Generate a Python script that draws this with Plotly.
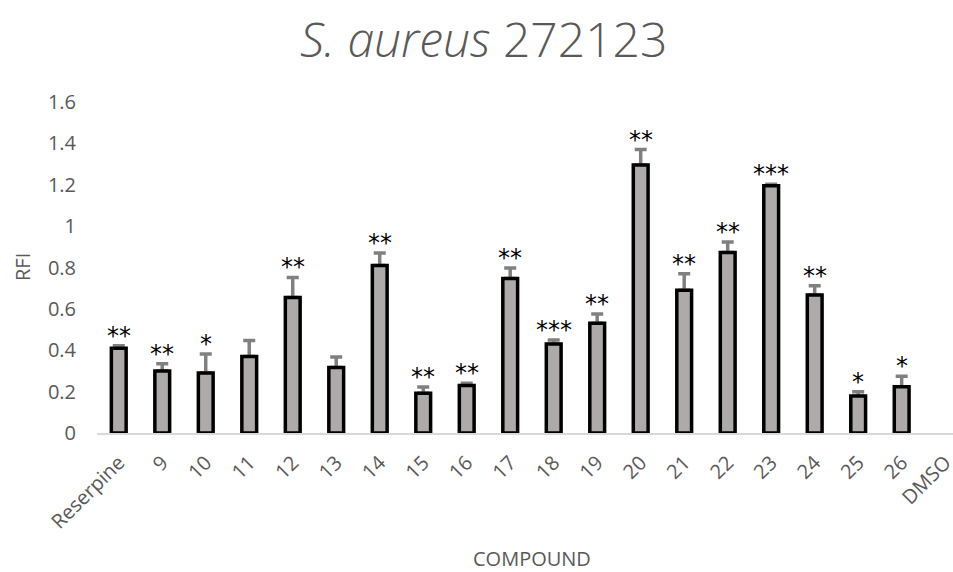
import plotly.graph_objects as go

categories = ["Reserpine", "9", "10", "11", "12", "13", "14", "15", "16", "17",
              "18", "19", "20", "21", "22", "23", "24", "25", "26", "DMSO"]
rfi = [0.41, 0.30, 0.29, 0.37, 0.655, 0.317, 0.81, 0.192, 0.23, 0.747,
       0.43, 0.53, 1.295, 0.69, 0.873, 1.195, 0.667, 0.179, 0.224, None]
err = [0.012, 0.035, 0.092, 0.077, 0.097, 0.05, 0.06, 0.03, 0.01, 0.05,
       0.02, 0.045, 0.075, 0.08, 0.05, 0.008, 0.045, 0.02, 0.05, None]
stars = ["**", "**", "*", "", "**", "", "**", "**", "**", "**",
         "***", "**", "**", "**", "**", "***", "**", "*", "*", ""]

grey_text = "#595959"
font_family = "Open Sans"

fig = go.Figure()

# error bars (upper only) drawn first, bars drawn over them
fig.add_trace(go.Bar(
    x=categories, y=rfi, width=0.34,
    marker=dict(color="rgba(0,0,0,0)", line=dict(width=0)),
    error_y=dict(type="data", array=err, arrayminus=[0] * len(err),
                 color="#808080", thickness=3.5, width=6),
    hoverinfo="skip", showlegend=False,
))
fig.add_trace(go.Bar(
    x=categories, y=rfi, width=0.34,
    marker=dict(color="#AEAAAA", line=dict(color="#000000", width=3.5)),
    showlegend=False,
))

annotations = [
    dict(text="<i>S. aureus</i> 272123", xref="paper", yref="paper",
         x=(483 - 97) / 856, y=(433 - 38) / 331, xanchor="center", yanchor="middle",
         showarrow=False, font=dict(size=48, color=grey_text, family=font_family, weight=300)),
    dict(text="RFI", xref="paper", yref="paper", x=(22 - 97) / 856, y=(433 - 267) / 331,
         xanchor="center", yanchor="middle", textangle=-90, showarrow=False,
         font=dict(size=20, color=grey_text, family=font_family)),
    dict(text="COMPOUND", xref="paper", yref="paper", x=(532 - 97) / 856, y=(433 - 558) / 331,
         xanchor="center", yanchor="middle", showarrow=False,
         font=dict(size=20, color=grey_text, family=font_family)),
]

# significance stars above each error bar (x given as category index)
for i, (v, e, s) in enumerate(zip(rfi, err, stars)):
    if v is None or not s:
        continue
    annotations.append(dict(
        text=s, x=i, y=v + e, xref="x", yref="y",
        xanchor="center", yanchor="middle", yshift=10, showarrow=False,
        font=dict(family="DejaVu Sans", size=24, color="#000000"),
    ))

fig.update_layout(
    width=953, height=572,
    margin=dict(l=97, r=0, t=102, b=139),
    plot_bgcolor="white", paper_bgcolor="white",
    barmode="overlay",
    font=dict(family=font_family, color=grey_text),
    annotations=annotations,
)

fig.update_xaxes(
    type="category", range=[-0.5, 19.18], automargin=False,
    showline=True, linecolor="#D9D9D9", linewidth=2,
    showgrid=False, ticks="", tickangle=-45,
    tickfont=dict(size=20, color=grey_text, family=font_family),
    ticklabelstandoff=8,
)
fig.update_yaxes(
    range=[0, 1.6], dtick=0.2, tick0=0, automargin=False,
    showline=False, showgrid=False, zeroline=False, ticks="",
    tickfont=dict(size=20, color=grey_text, family=font_family),
    ticklabelstandoff=20,
)

fig.write_html("out.html", config={"displayModeBar": False},
               post_script="document.body.style.margin='0px';")
